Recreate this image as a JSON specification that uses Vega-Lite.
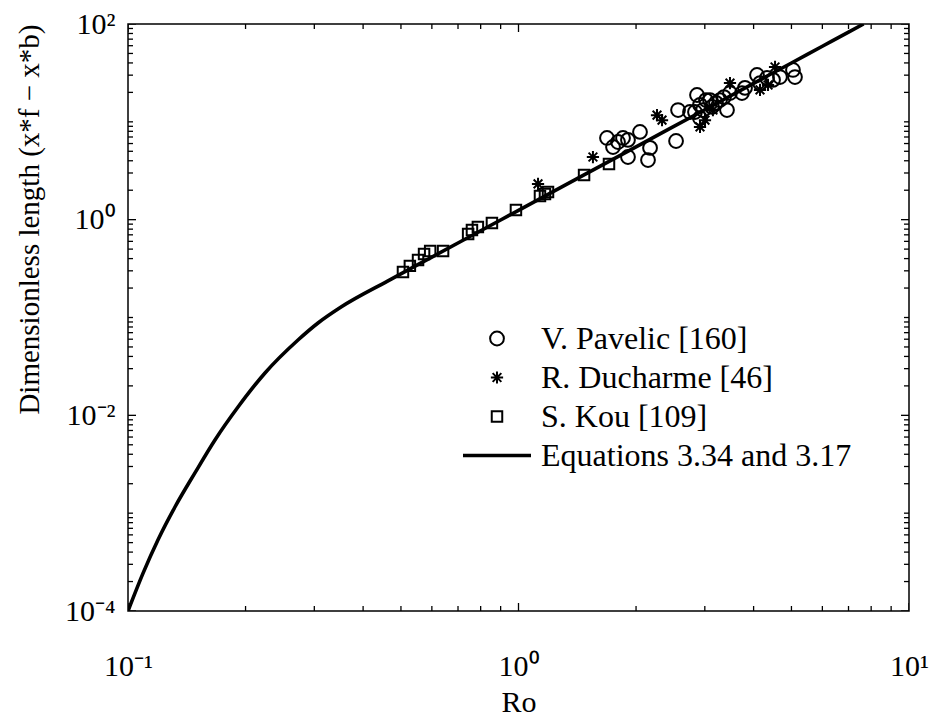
{
  "$schema": "https://vega.github.io/schema/vega-lite/v6.json",
  "width": 781,
  "height": 587,
  "autosize": {"type": "none"},
  "padding": {"left": 128, "top": 24, "right": 25, "bottom": 108},
  "background": "white",
  "config": {
    "view": {"stroke": "black", "strokeWidth": 1.5},
    "font": "Liberation Serif",
    "axis": {"domain": false, "ticks": false, "tickSize": 0, "grid": false, "labelColor": "black", "titleColor": "black", "labelFont": "Liberation Serif", "titleFont": "Liberation Serif", "titleFontWeight": "normal", "labelFlush": false}
  },
  "datasets": {
    "curve": [
      {"Ro": 0.1, "L": 0.0001},
      {"Ro": 0.1093, "L": 0.000244},
      {"Ro": 0.1193, "L": 0.000532},
      {"Ro": 0.1319, "L": 0.001156},
      {"Ro": 0.1484, "L": 0.00258},
      {"Ro": 0.167, "L": 0.0056},
      {"Ro": 0.1913, "L": 0.01216},
      {"Ro": 0.2243, "L": 0.0271},
      {"Ro": 0.2725, "L": 0.0589},
      {"Ro": 0.3066, "L": 0.0879},
      {"Ro": 0.3512, "L": 0.128},
      {"Ro": 0.4633, "L": 0.237},
      {"Ro": 0.6, "L": 0.4144},
      {"Ro": 0.8, "L": 0.77},
      {"Ro": 1.0, "L": 1.246},
      {"Ro": 1.5, "L": 2.985},
      {"Ro": 2.0, "L": 5.549},
      {"Ro": 3.0, "L": 13.3},
      {"Ro": 4.0, "L": 24.72},
      {"Ro": 5.0, "L": 39.97},
      {"Ro": 6.0, "L": 59.21},
      {"Ro": 7.0, "L": 82.53},
      {"Ro": 7.65, "L": 100}
    ],
    "xticks": [
      {"v": 0.1, "kind": "major"}, {"v": 1, "kind": "major"}, {"v": 10, "kind": "major"},
      {"v": 0.2, "kind": "minor"}, {"v": 0.3, "kind": "minor"}, {"v": 0.4, "kind": "minor"}, {"v": 0.5, "kind": "minor"},
      {"v": 0.6, "kind": "minor"}, {"v": 0.7, "kind": "minor"}, {"v": 0.8, "kind": "minor"}, {"v": 0.9, "kind": "minor"},
      {"v": 2, "kind": "minor"}, {"v": 3, "kind": "minor"}, {"v": 4, "kind": "minor"}, {"v": 5, "kind": "minor"},
      {"v": 6, "kind": "minor"}, {"v": 7, "kind": "minor"}, {"v": 8, "kind": "minor"}, {"v": 9, "kind": "minor"}
    ],
    "yticks": [
      {"v": 0.0001, "kind": "major"}, {"v": 0.01, "kind": "major"}, {"v": 1, "kind": "major"}, {"v": 100, "kind": "major"},
      {"v": 0.0002, "kind": "minor"}, {"v": 0.0003, "kind": "minor"}, {"v": 0.0004, "kind": "minor"}, {"v": 0.0005, "kind": "minor"}, {"v": 0.0006, "kind": "minor"}, {"v": 0.0007, "kind": "minor"}, {"v": 0.0008, "kind": "minor"}, {"v": 0.0009, "kind": "minor"},
      {"v": 0.001, "kind": "minor"}, {"v": 0.002, "kind": "minor"}, {"v": 0.003, "kind": "minor"}, {"v": 0.004, "kind": "minor"}, {"v": 0.005, "kind": "minor"}, {"v": 0.006, "kind": "minor"}, {"v": 0.007, "kind": "minor"}, {"v": 0.008, "kind": "minor"}, {"v": 0.009, "kind": "minor"},
      {"v": 0.02, "kind": "minor"}, {"v": 0.03, "kind": "minor"}, {"v": 0.04, "kind": "minor"}, {"v": 0.05, "kind": "minor"}, {"v": 0.06, "kind": "minor"}, {"v": 0.07, "kind": "minor"}, {"v": 0.08, "kind": "minor"}, {"v": 0.09, "kind": "minor"},
      {"v": 0.1, "kind": "minor"}, {"v": 0.2, "kind": "minor"}, {"v": 0.3, "kind": "minor"}, {"v": 0.4, "kind": "minor"}, {"v": 0.5, "kind": "minor"}, {"v": 0.6, "kind": "minor"}, {"v": 0.7, "kind": "minor"}, {"v": 0.8, "kind": "minor"}, {"v": 0.9, "kind": "minor"},
      {"v": 2, "kind": "minor"}, {"v": 3, "kind": "minor"}, {"v": 4, "kind": "minor"}, {"v": 5, "kind": "minor"}, {"v": 6, "kind": "minor"}, {"v": 7, "kind": "minor"}, {"v": 8, "kind": "minor"}, {"v": 9, "kind": "minor"},
      {"v": 10, "kind": "minor"}, {"v": 20, "kind": "minor"}, {"v": 30, "kind": "minor"}, {"v": 40, "kind": "minor"}, {"v": 50, "kind": "minor"}, {"v": 60, "kind": "minor"}, {"v": 70, "kind": "minor"}, {"v": 80, "kind": "minor"}, {"v": 90, "kind": "minor"}
    ],
    "points": [
      {"Ro": 1.685, "L": 6.84, "series": "V. Pavelic [160]"},
      {"Ro": 1.746, "L": 5.53, "series": "V. Pavelic [160]"},
      {"Ro": 1.798, "L": 6.22, "series": "V. Pavelic [160]"},
      {"Ro": 1.852, "L": 6.84, "series": "V. Pavelic [160]"},
      {"Ro": 1.907, "L": 6.53, "series": "V. Pavelic [160]"},
      {"Ro": 2.047, "L": 7.88, "series": "V. Pavelic [160]"},
      {"Ro": 1.907, "L": 4.37, "series": "V. Pavelic [160]"},
      {"Ro": 2.146, "L": 4.07, "series": "V. Pavelic [160]"},
      {"Ro": 2.172, "L": 5.41, "series": "V. Pavelic [160]"},
      {"Ro": 2.532, "L": 6.37, "series": "V. Pavelic [160]"},
      {"Ro": 2.562, "L": 13.2, "series": "V. Pavelic [160]"},
      {"Ro": 2.749, "L": 12.6, "series": "V. Pavelic [160]"},
      {"Ro": 2.865, "L": 18.8, "series": "V. Pavelic [160]"},
      {"Ro": 2.916, "L": 14.9, "series": "V. Pavelic [160]"},
      {"Ro": 2.968, "L": 13.2, "series": "V. Pavelic [160]"},
      {"Ro": 3.021, "L": 16.7, "series": "V. Pavelic [160]"},
      {"Ro": 3.093, "L": 16.7, "series": "V. Pavelic [160]"},
      {"Ro": 3.129, "L": 14.2, "series": "V. Pavelic [160]"},
      {"Ro": 3.204, "L": 15.6, "series": "V. Pavelic [160]"},
      {"Ro": 3.281, "L": 16.7, "series": "V. Pavelic [160]"},
      {"Ro": 3.419, "L": 13.2, "series": "V. Pavelic [160]"},
      {"Ro": 3.735, "L": 19.7, "series": "V. Pavelic [160]"},
      {"Ro": 3.802, "L": 22.2, "series": "V. Pavelic [160]"},
      {"Ro": 4.081, "L": 30.1, "series": "V. Pavelic [160]"},
      {"Ro": 4.154, "L": 24.9, "series": "V. Pavelic [160]"},
      {"Ro": 4.329, "L": 28.1, "series": "V. Pavelic [160]"},
      {"Ro": 4.485, "L": 26.8, "series": "V. Pavelic [160]"},
      {"Ro": 4.673, "L": 28.7, "series": "V. Pavelic [160]"},
      {"Ro": 5.045, "L": 33.9, "series": "V. Pavelic [160]"},
      {"Ro": 5.105, "L": 28.7, "series": "V. Pavelic [160]"},
      {"Ro": 2.831, "L": 12.6, "series": "V. Pavelic [160]"},
      {"Ro": 2.916, "L": 10.9, "series": "V. Pavelic [160]"},
      {"Ro": 3.359, "L": 17.9, "series": "V. Pavelic [160]"},
      {"Ro": 3.48, "L": 19.7, "series": "V. Pavelic [160]"},
      {"Ro": 1.122, "L": 2.32, "series": "R. Ducharme [46]"},
      {"Ro": 1.551, "L": 4.37, "series": "R. Ducharme [46]"},
      {"Ro": 2.263, "L": 11.7, "series": "R. Ducharme [46]"},
      {"Ro": 2.331, "L": 10.4, "series": "R. Ducharme [46]"},
      {"Ro": 2.916, "L": 8.86, "series": "R. Ducharme [46]"},
      {"Ro": 3.003, "L": 10.4, "series": "R. Ducharme [46]"},
      {"Ro": 3.147, "L": 13.2, "series": "R. Ducharme [46]"},
      {"Ro": 3.48, "L": 24.9, "series": "R. Ducharme [46]"},
      {"Ro": 4.154, "L": 21.2, "series": "R. Ducharme [46]"},
      {"Ro": 4.355, "L": 23.8, "series": "R. Ducharme [46]"},
      {"Ro": 4.539, "L": 36.4, "series": "R. Ducharme [46]"},
      {"Ro": 0.506, "L": 0.292, "series": "S. Kou [109]"},
      {"Ro": 0.527, "L": 0.337, "series": "S. Kou [109]"},
      {"Ro": 0.553, "L": 0.387, "series": "S. Kou [109]"},
      {"Ro": 0.573, "L": 0.446, "series": "S. Kou [109]"},
      {"Ro": 0.594, "L": 0.479, "series": "S. Kou [109]"},
      {"Ro": 0.641, "L": 0.479, "series": "S. Kou [109]"},
      {"Ro": 0.743, "L": 0.714, "series": "S. Kou [109]"},
      {"Ro": 0.76, "L": 0.785, "series": "S. Kou [109]"},
      {"Ro": 0.787, "L": 0.841, "series": "S. Kou [109]"},
      {"Ro": 0.855, "L": 0.925, "series": "S. Kou [109]"},
      {"Ro": 0.985, "L": 1.256, "series": "S. Kou [109]"},
      {"Ro": 1.135, "L": 1.75, "series": "S. Kou [109]"},
      {"Ro": 1.169, "L": 1.83, "series": "S. Kou [109]"},
      {"Ro": 1.19, "L": 1.92, "series": "S. Kou [109]"},
      {"Ro": 1.472, "L": 2.86, "series": "S. Kou [109]"},
      {"Ro": 1.705, "L": 3.71, "series": "S. Kou [109]"}
    ]
  },
  "layer": [
    {
      "data": {"name": "points"},
      "mark": {"type": "point", "filled": false, "color": "black", "opacity": 1},
      "encoding": {
        "x": {"field": "Ro", "type": "quantitative", "scale": {"type": "log", "domain": [0.1, 10], "nice": false}, "axis": null},
        "y": {"field": "L", "type": "quantitative", "scale": {"type": "log", "domain": [0.0001, 100], "nice": false}, "axis": null},
        "shape": {"field": "series", "type": "nominal",
                  "scale": {"domain": ["V. Pavelic [160]", "R. Ducharme [46]", "S. Kou [109]", "Equations 3.34 and 3.17"],
                            "range": ["circle", "M-1,0L1,0M0,-1L0,1M-0.71,-0.71L0.71,0.71M-0.71,0.71L0.71,-0.71", "square", "stroke"]},
                  "legend": {"title": null, "orient": "none", "legendX": 333, "legendY": 299, "labelFontSize": 32, "labelFont": "Liberation Serif", "labelColor": "black", "labelLimit": 600, "rowPadding": 6, "clipHeight": 31, "labelOffset": 8, "padding": 0, "symbolStrokeColor": "black"}},
        "size": {"field": "series", "type": "nominal",
                 "scale": {"type": "ordinal", "domain": ["V. Pavelic [160]", "R. Ducharme [46]", "S. Kou [109]", "Equations 3.34 and 3.17"], "range": [190, 150, 110, 4624]},
                 "legend": {"title": null, "orient": "none", "legendX": 333, "legendY": 299, "labelFontSize": 32, "labelFont": "Liberation Serif", "labelColor": "black", "labelLimit": 600, "rowPadding": 6, "clipHeight": 31, "labelOffset": 8, "padding": 0, "symbolStrokeColor": "black"}},
        "strokeWidth": {"field": "series", "type": "nominal",
                 "scale": {"type": "ordinal", "domain": ["V. Pavelic [160]", "R. Ducharme [46]", "S. Kou [109]", "Equations 3.34 and 3.17"], "range": [2, 2, 2, 3.6]},
                 "legend": {"title": null, "orient": "none", "legendX": 333, "legendY": 299, "labelFontSize": 32, "labelFont": "Liberation Serif", "labelColor": "black", "labelLimit": 600, "rowPadding": 6, "clipHeight": 31, "labelOffset": 8, "padding": 0, "symbolStrokeColor": "black"}}
      }
    },
    {
      "data": {"name": "curve"},
      "mark": {"type": "line", "color": "black", "strokeWidth": 3.6, "clip": true, "interpolate": "monotone"},
      "encoding": {
        "x": {"field": "Ro", "type": "quantitative", "scale": {"type": "log", "domain": [0.1, 10], "nice": false},
              "axis": {"orient": "bottom", "values": [0.1, 1, 10], "labelPadding": 40, "labelFontSize": 30,
                       "labelExpr": "round(log(datum.value)/LN10) == -1 ? '10⁻¹' : round(log(datum.value)/LN10) == 0 ? '10⁰' : '10¹'",
                       "title": "Ro", "titleFontSize": 30, "titlePadding": 6}},
        "y": {"field": "L", "type": "quantitative", "scale": {"type": "log", "domain": [0.0001, 100], "nice": false},
              "axis": {"orient": "left", "values": [0.0001, 0.01, 1, 100], "labelPadding": 13, "labelFontSize": 30,
                       "labelExpr": "round(log(datum.value)/LN10) == -4 ? '10⁻⁴' : round(log(datum.value)/LN10) == -2 ? '10⁻²' : round(log(datum.value)/LN10) == 0 ? '10⁰' : '10²'",
                       "title": "Dimensionless length (x*f − x*b)", "titleFontSize": 29, "titleAnchor": "end", "titlePadding": 20}},
        "order": {"field": "Ro", "type": "quantitative"}
      }
    },
    {
      "data": {"name": "xticks"},
      "transform": [{"filter": "datum.kind == 'major'"}],
      "mark": {"type": "tick", "orient": "vertical", "size": 16, "thickness": 1.3, "color": "black", "opacity": 1, "clip": true},
      "encoding": {"x": {"field": "v", "type": "quantitative", "axis": null}, "y": {"datum": 0.0001, "type": "quantitative", "axis": null}}
    },
    {
      "data": {"name": "xticks"},
      "transform": [{"filter": "datum.kind == 'major'"}],
      "mark": {"type": "tick", "orient": "vertical", "size": 16, "thickness": 1.3, "color": "black", "opacity": 1, "clip": true},
      "encoding": {"x": {"field": "v", "type": "quantitative", "axis": null}, "y": {"datum": 100, "type": "quantitative", "axis": null}}
    },
    {
      "data": {"name": "xticks"},
      "transform": [{"filter": "datum.kind == 'minor'"}],
      "mark": {"type": "tick", "orient": "vertical", "size": 10, "thickness": 1.3, "color": "black", "opacity": 1, "clip": true},
      "encoding": {"x": {"field": "v", "type": "quantitative", "axis": null}, "y": {"datum": 0.0001, "type": "quantitative", "axis": null}}
    },
    {
      "data": {"name": "xticks"},
      "transform": [{"filter": "datum.kind == 'minor'"}],
      "mark": {"type": "tick", "orient": "vertical", "size": 10, "thickness": 1.3, "color": "black", "opacity": 1, "clip": true},
      "encoding": {"x": {"field": "v", "type": "quantitative", "axis": null}, "y": {"datum": 100, "type": "quantitative", "axis": null}}
    },
    {
      "data": {"name": "yticks"},
      "transform": [{"filter": "datum.kind == 'major'"}],
      "mark": {"type": "tick", "orient": "horizontal", "size": 16, "thickness": 1.3, "color": "black", "opacity": 1, "clip": true},
      "encoding": {"y": {"field": "v", "type": "quantitative", "axis": null}, "x": {"datum": 0.1, "type": "quantitative", "axis": null}}
    },
    {
      "data": {"name": "yticks"},
      "transform": [{"filter": "datum.kind == 'major'"}],
      "mark": {"type": "tick", "orient": "horizontal", "size": 16, "thickness": 1.3, "color": "black", "opacity": 1, "clip": true},
      "encoding": {"y": {"field": "v", "type": "quantitative", "axis": null}, "x": {"datum": 10, "type": "quantitative", "axis": null}}
    },
    {
      "data": {"name": "yticks"},
      "transform": [{"filter": "datum.kind == 'minor'"}],
      "mark": {"type": "tick", "orient": "horizontal", "size": 10, "thickness": 1.3, "color": "black", "opacity": 1, "clip": true},
      "encoding": {"y": {"field": "v", "type": "quantitative", "axis": null}, "x": {"datum": 0.1, "type": "quantitative", "axis": null}}
    },
    {
      "data": {"name": "yticks"},
      "transform": [{"filter": "datum.kind == 'minor'"}],
      "mark": {"type": "tick", "orient": "horizontal", "size": 10, "thickness": 1.3, "color": "black", "opacity": 1, "clip": true},
      "encoding": {"y": {"field": "v", "type": "quantitative", "axis": null}, "x": {"datum": 10, "type": "quantitative", "axis": null}}
    }
  ],
  "resolve": {"axis": {"x": "independent", "y": "independent"}}
}
